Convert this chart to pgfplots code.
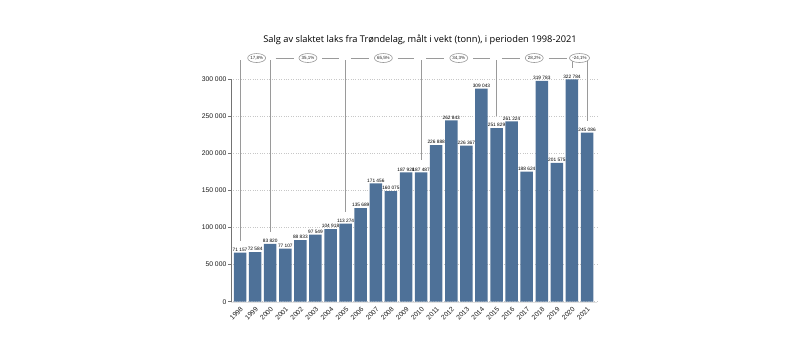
\documentclass[border=0pt]{standalone}
\usepackage{pgfplots}
\pgfplotsset{compat=1.18}
\usepackage{pgfplotstable}
\usepackage{fontspec}
\setmainfont{Liberation Sans}
\newfontfamily\titlefont{Open Sans}
\usetikzlibrary{shapes.geometric}
\definecolor{barblue}{HTML}{4E7198}
\definecolor{anngray}{HTML}{9A9A9A}

\pgfplotstableread{
x h lab
0 66200 71157
1 67000 72584
2 78000 83820
3 71600 77107
4 83000 88833
5 90500 97549
6 97800 104918
7 105400 113274
8 126200 135689
9 159500 171456
10 149200 160075
11 174300 187928
12 174300 187487
13 211300 226888
14 244600 262843
15 210400 226367
16 287400 309043
17 234300 251829
18 243200 261224
19 175300 188624
20 297800 319783
21 187400 201575
22 300000 322784
23 228000 245086
}\laks

\begin{document}
\begin{tikzpicture}
\useasboundingbox (0,0) rectangle (800bp,352bp);
\begin{axis}[
  at={(231bp,50.3bp)}, anchor=south west,
  scale only axis, width=366bp, height=222.4bp,
  xmin=-0.6, xmax=23.66, ymin=0, ymax=300000,
  clip=false,
  ybar, bar width=12.5bp,
  axis x line*=bottom, axis y line*=left,
  x axis line style={draw=black!12},
  y axis line style={draw=black!55, line width=0.8pt},
  xtick={0,1,2,3,4,5,6,7,8,9,10,11,12,13,14,15,16,17,18,19,20,21,22,23},
  xticklabels={1998,1999,2000,2001,2002,2003,2004,2005,2006,2007,2008,2009,2010,2011,2012,2013,2014,2015,2016,2017,2018,2019,2020,2021},
  xtick style={draw=none},
  xticklabel style={rotate=45, anchor=north east, inner sep=1bp, font=\fontsize{6.8}{7}\selectfont, text=black!90},
  ytick={0,50000,100000,150000,200000,250000,300000},
  scaled y ticks=false,
  /pgf/number format/assume math mode=true,
  /pgf/number format/fixed,
  /pgf/number format/1000 sep={\ },
  yticklabel style={font=\fontsize{6.8}{7}\selectfont, text=black!90, inner sep=1.5bp},
  ytick style={draw=black!55, line width=0.5pt},
  tick align=outside, major tick length=3bp,
  ymajorgrids, grid style={dotted, black!22, line width=0.5pt},
  every node near coord/.append style={font=\fontsize{4.8}{5}\selectfont, text=black, inner sep=1bp},
]
\addplot[fill=barblue, draw=none, nodes near coords, point meta=explicit]
  table[x=x, y=h, meta=lab] {\laks};

% verticals
\draw[anngray, line width=0.6pt] (axis cs:0,326000) -- ([yshift=12bp]axis cs:0,66200);
\draw[anngray, line width=0.6pt] (axis cs:2,326000) -- ([yshift=12bp]axis cs:2,78000);
\draw[anngray, line width=0.6pt] (axis cs:7,326000) -- ([yshift=12bp]axis cs:7,105400);
\draw[anngray, line width=0.6pt] (axis cs:12,326000) -- ([yshift=12bp]axis cs:12,174300);
\draw[anngray, line width=0.6pt] (axis cs:17,326000) -- ([yshift=12bp]axis cs:17,234300);
\draw[anngray, line width=0.6pt] (axis cs:22,326000) -- ([yshift=11bp]axis cs:22,300000);
\draw[anngray, line width=0.6pt] (axis cs:23,326000) -- ([yshift=12bp]axis cs:23,228000);
% horizontals
\draw[anngray, line width=0.6pt] (axis cs:2.35,328700) -- (axis cs:3.55,328700);
\draw[anngray, line width=0.6pt] (axis cs:5.45,328700) -- (axis cs:6.55,328700);
\draw[anngray, line width=0.6pt] (axis cs:7.35,328700) -- (axis cs:8.55,328700);
\draw[anngray, line width=0.6pt] (axis cs:10.45,328700) -- (axis cs:11.55,328700);
\draw[anngray, line width=0.6pt] (axis cs:12.35,328700) -- (axis cs:13.55,328700);
\draw[anngray, line width=0.6pt] (axis cs:15.45,328700) -- (axis cs:16.55,328700);
\draw[anngray, line width=0.6pt] (axis cs:17.35,328700) -- (axis cs:18.55,328700);
\draw[anngray, line width=0.6pt] (axis cs:20.45,328700) -- (axis cs:21.65,328700);
% ellipses
\tikzset{pct/.style={draw=anngray, line width=0.6pt, ellipse, fill=white, minimum width=18bp, minimum height=9bp, inner sep=0pt, font=\fontsize{4.5}{5}\selectfont, text=black!85}}
\node[pct] at (axis cs:1.1,328700) {17,8\%};
\node[pct] at (axis cs:4.5,328700) {35,1\%};
\node[pct] at (axis cs:9.5,328700) {65,5\%};
\node[pct] at (axis cs:14.5,328700) {34,3\%};
\node[pct] at (axis cs:19.5,328700) {28,2\%};
\node[pct] at (axis cs:22.5,328700) {-24,1\%};
\end{axis}
\node[font=\titlefont\fontsize{9.3}{11}\selectfont, text=black] at (420bp,312bp)
  {Salg av slaktet laks fra Trøndelag, målt i vekt (tonn), i perioden 1998-2021};
\end{tikzpicture}
\end{document}
